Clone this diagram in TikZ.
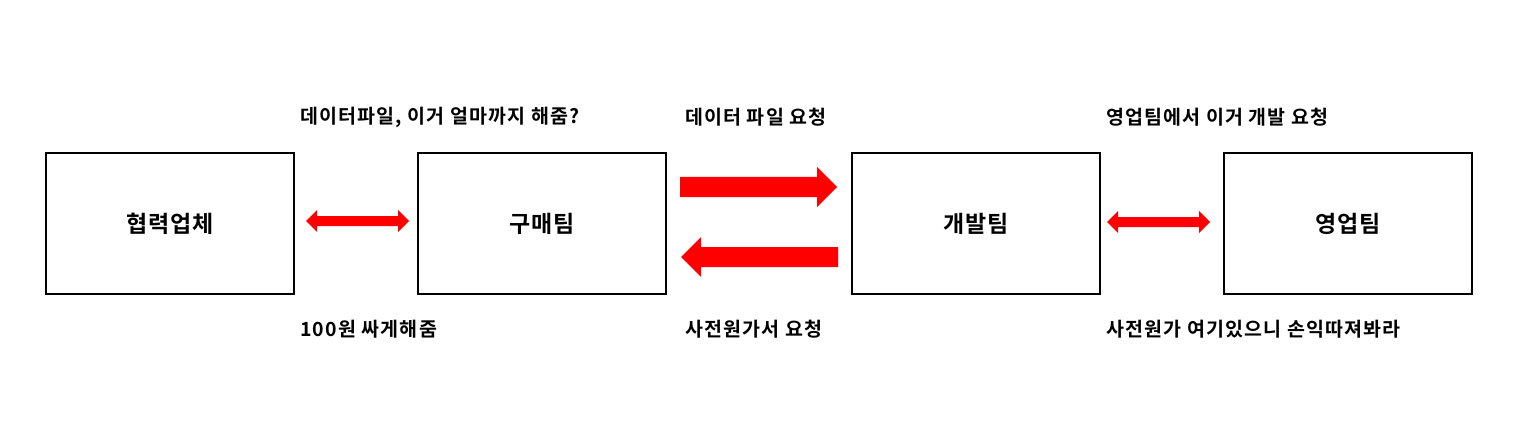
\documentclass[tikz,border=0pt]{standalone}
\usepackage{fontspec}
\setmainfont{Noto Sans CJK KR}[BoldFont={* Bold}]
\newfontfamily\krlbl{Noto Sans CJK KR Bold}[LetterSpace=6]
\newfontfamily\krbox{Noto Sans CJK KR Bold}[LetterSpace=3]
\begin{document}
\begin{tikzpicture}[x=1pt,y=-1pt,
  box/.style={draw,line width=2pt,minimum width=248pt,minimum height=141pt,inner sep=0pt,font=\krbox\fontsize{23}{27}\selectfont},
  lbl/.style={anchor=west,inner sep=0pt,font=\krlbl\fontsize{19.5}{23}\selectfont},
  arr/.style={fill=red,draw=none}]
\useasboundingbox (0,0) rectangle (1530,422);
\node[box] (a) at (170,223.5) {협력업체};
\node[box] (b) at (542,223.5) {구매팀};
\node[box] (c) at (976,223.5) {개발팀};
\node[box] (d) at (1348,223.5) {영업팀};
\node[lbl] (t1) at (300,117) {데이터파일, 이거 얼마까지 해줌?};
\node[lbl] (t2) at (685,117) {데이터 파일 요청};
\node[lbl] (t3) at (1106,117) {영업팀에서 이거 개발 요청};
\node[lbl] (b1) at (300,329) {100원 싸게해줌};
\node[lbl] (b2) at (685,329) {사전원가서 요청};
\node[lbl] (b3) at (1106,329) {사전원가 여기있으니 손익따져봐라};
% double arrows
\fill[arr] (306,221) -- (317,210) -- (317,216) -- (398,216) -- (398,210) -- (409,221) -- (398,232) -- (398,226) -- (317,226) -- (317,232) -- cycle;
\fill[arr] (1107,222) -- (1118,211) -- (1118,217) -- (1199,217) -- (1199,211) -- (1210,222) -- (1199,233) -- (1199,227) -- (1118,227) -- (1118,233) -- cycle;
% right arrow
\fill[arr] (680,177) -- (817,177) -- (817,167) -- (837,187) -- (817,207) -- (817,197) -- (680,197) -- cycle;
% left arrow
\fill[arr] (838,247) -- (701,247) -- (701,237) -- (681,257) -- (701,277) -- (701,267) -- (838,267) -- cycle;
\end{tikzpicture}
\end{document}
